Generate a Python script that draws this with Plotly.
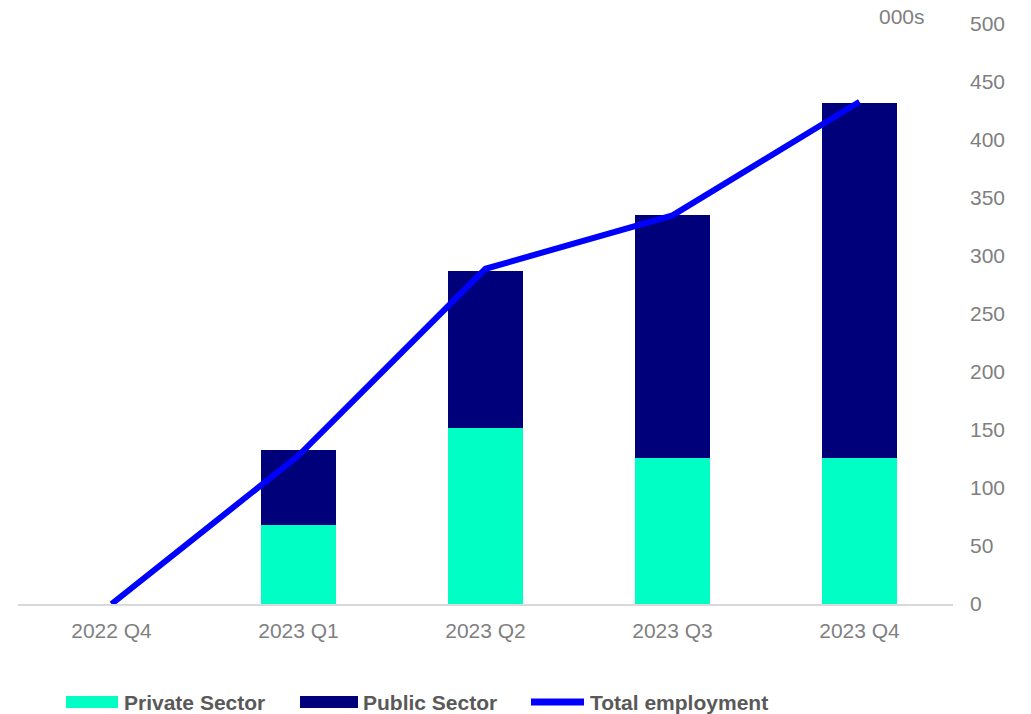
import plotly.graph_objects as go

categories = ["2022 Q4", "2023 Q1", "2023 Q2", "2023 Q3", "2023 Q4"]
private_sector = [0, 68, 152, 126, 126]
public_sector = [0, 65, 135, 209, 306]
total_employment = [0, 128, 289, 335, 433]

PRIVATE_COLOR = "#00FFC5"
PUBLIC_COLOR = "#00007A"
TOTAL_COLOR = "#0000FF"
TEXT_GRAY = "#7F7F7F"
LEGEND_TEXT = "#595959"
FONT = "Liberation Sans, Arial, sans-serif"

W, H = 1031, 714
L, R, T, B = 18, 78, 24, 110
PW, PH = W - L - R, H - T - B


def px2x(px):
    return (px - L) / PW


def px2y(py):
    return (H - B - py) / PH


fig = go.Figure()
fig.add_trace(go.Bar(x=categories, y=private_sector, name="Private Sector",
                     marker=dict(color=PRIVATE_COLOR, line=dict(width=0))))
fig.add_trace(go.Bar(x=categories, y=public_sector, name="Public Sector",
                     marker=dict(color=PUBLIC_COLOR, line=dict(width=0))))
fig.add_trace(go.Scatter(x=categories, y=total_employment, name="Total employment",
                         mode="lines", line=dict(color=TOTAL_COLOR, width=6)))

fig.update_layout(
    width=W, height=H,
    margin=dict(l=L, r=R, t=T, b=B),
    barmode="stack",
    bargap=0.6,
    showlegend=False,
    plot_bgcolor="white",
    paper_bgcolor="white",
    font=dict(family=FONT, size=21, color=TEXT_GRAY),
)
fig.update_xaxes(
    showline=True, linecolor="#D9D9D9", linewidth=2,
    showgrid=False, ticks="", tickfont=dict(size=21, color=TEXT_GRAY),
    ticklabelstandoff=7, fixedrange=True,
)
fig.update_yaxes(
    side="right", range=[0, 500], dtick=50, showgrid=False, zeroline=False,
    showline=False, ticks="", tickfont=dict(size=21, color=TEXT_GRAY),
    ticklabelstandoff=16, fixedrange=True,
)

fig.add_annotation(text="000s", xref="paper", yref="paper",
                   x=px2x(902), y=px2y(17), showarrow=False,
                   xanchor="center", yanchor="middle",
                   font=dict(size=21, color=TEXT_GRAY, family=FONT))

# manual legend
ly = 702
fig.add_shape(type="rect", xref="paper", yref="paper",
              x0=px2x(66), x1=px2x(118), y0=px2y(708), y1=px2y(696),
              fillcolor=PRIVATE_COLOR, line=dict(width=0))
fig.add_shape(type="rect", xref="paper", yref="paper",
              x0=px2x(300), x1=px2x(358), y0=px2y(708), y1=px2y(696),
              fillcolor=PUBLIC_COLOR, line=dict(width=0))
fig.add_shape(type="line", xref="paper", yref="paper",
              x0=px2x(531), x1=px2x(584), y0=px2y(ly), y1=px2y(ly),
              line=dict(color=TOTAL_COLOR, width=7))
for label, px in [("Private Sector", 122), ("Public Sector", 361), ("Total employment", 588)]:
    fig.add_annotation(text="<b>%s</b>" % label, xref="paper", yref="paper",
                       x=px2x(px), y=px2y(ly), showarrow=False,
                       xanchor="left", yanchor="middle",
                       font=dict(size=21, color=LEGEND_TEXT, family=FONT))

fig.write_html("out.html")
